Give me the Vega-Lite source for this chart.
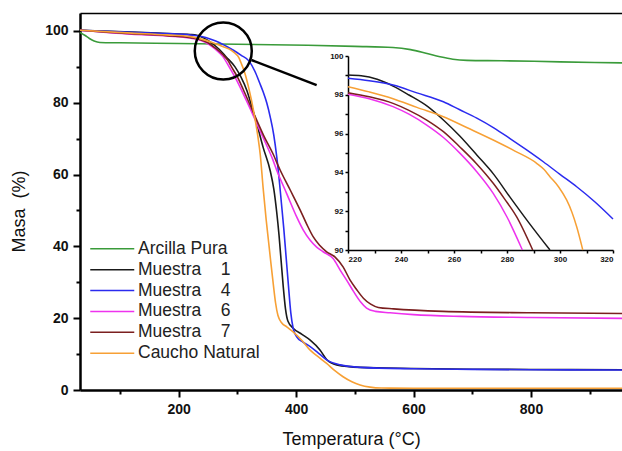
{
"$schema": "https://vega.github.io/schema/vega-lite/v6.json",
"width": 542, "height": 377,
"autosize": {"type": "none"},
"padding": {"left": 80, "top": 13, "right": 0, "bottom": 61},
"config": {"view": {"stroke": null}, "font": "Liberation Sans", "axis": {"grid": false, "domainColor": "black", "tickColor": "black", "labelColor": "#111", "titleColor": "#111"}},
"datasets": {
"main": [
{"s":"Arcilla Pura","t":32,"m":99.6},{"s":"Arcilla Pura","t":40,"m":98.8},{"s":"Arcilla Pura","t":48,"m":97.9},{"s":"Arcilla Pura","t":56,"m":97.2},{"s":"Arcilla Pura","t":66,"m":96.8},{"s":"Arcilla Pura","t":100,"m":96.7},{"s":"Arcilla Pura","t":200,"m":96.5},{"s":"Arcilla Pura","t":300,"m":96.3},{"s":"Arcilla Pura","t":420,"m":96.0},{"s":"Arcilla Pura","t":500,"m":95.7},{"s":"Arcilla Pura","t":565,"m":95.4},{"s":"Arcilla Pura","t":595,"m":94.8},{"s":"Arcilla Pura","t":623,"m":93.7},{"s":"Arcilla Pura","t":645,"m":92.8},{"s":"Arcilla Pura","t":667,"m":92.1},{"s":"Arcilla Pura","t":691,"m":91.8},{"s":"Arcilla Pura","t":750,"m":91.7},{"s":"Arcilla Pura","t":850,"m":91.4},{"s":"Arcilla Pura","t":955,"m":91.1},
{"s":"Muestra 1","t":32,"m":100.2},{"s":"Muestra 1","t":120,"m":99.7},{"s":"Muestra 1","t":180,"m":99.3},{"s":"Muestra 1","t":220,"m":99.02},{"s":"Muestra 1","t":231,"m":98.8},{"s":"Muestra 1","t":243,"m":98.0},{"s":"Muestra 1","t":256,"m":96.7},{"s":"Muestra 1","t":269,"m":94.9},{"s":"Muestra 1","t":281,"m":92.75},{"s":"Muestra 1","t":296,"m":90.0},{"s":"Muestra 1","t":306,"m":87.2},{"s":"Muestra 1","t":316,"m":83.5},{"s":"Muestra 1","t":325,"m":78.7},{"s":"Muestra 1","t":333,"m":74.2},{"s":"Muestra 1","t":344,"m":67.5},{"s":"Muestra 1","t":356,"m":61},{"s":"Muestra 1","t":362,"m":56},{"s":"Muestra 1","t":367,"m":49.5},{"s":"Muestra 1","t":371,"m":43},{"s":"Muestra 1","t":374,"m":37},{"s":"Muestra 1","t":378,"m":29},{"s":"Muestra 1","t":382,"m":22.5},{"s":"Muestra 1","t":386,"m":19.2},{"s":"Muestra 1","t":395,"m":17.2},{"s":"Muestra 1","t":410,"m":15.5},{"s":"Muestra 1","t":424,"m":13.9},{"s":"Muestra 1","t":441,"m":11.1},{"s":"Muestra 1","t":452,"m":8.5},{"s":"Muestra 1","t":469,"m":7.0},{"s":"Muestra 1","t":509,"m":6.3},{"s":"Muestra 1","t":600,"m":6.0},{"s":"Muestra 1","t":700,"m":5.8},{"s":"Muestra 1","t":800,"m":5.7},{"s":"Muestra 1","t":955,"m":5.65},
{"s":"Muestra 4","t":32,"m":100.2},{"s":"Muestra 4","t":120,"m":99.6},{"s":"Muestra 4","t":180,"m":99.25},{"s":"Muestra 4","t":220,"m":98.85},{"s":"Muestra 4","t":237,"m":98.5},{"s":"Muestra 4","t":256,"m":97.64},{"s":"Muestra 4","t":269,"m":96.8},{"s":"Muestra 4","t":281,"m":95.76},{"s":"Muestra 4","t":294,"m":94.55},{"s":"Muestra 4","t":306,"m":93.26},{"s":"Muestra 4","t":320,"m":91.6},{"s":"Muestra 4","t":330,"m":88.7},{"s":"Muestra 4","t":338,"m":85.5},{"s":"Muestra 4","t":344,"m":83},{"s":"Muestra 4","t":350,"m":80},{"s":"Muestra 4","t":356,"m":76},{"s":"Muestra 4","t":362,"m":71},{"s":"Muestra 4","t":367,"m":65},{"s":"Muestra 4","t":371,"m":59},{"s":"Muestra 4","t":375,"m":52},{"s":"Muestra 4","t":379,"m":45},{"s":"Muestra 4","t":383,"m":37},{"s":"Muestra 4","t":387,"m":29},{"s":"Muestra 4","t":391,"m":21.5},{"s":"Muestra 4","t":395,"m":17.2},{"s":"Muestra 4","t":401,"m":14.8},{"s":"Muestra 4","t":412,"m":13.3},{"s":"Muestra 4","t":424,"m":12.1},{"s":"Muestra 4","t":440,"m":10.0},{"s":"Muestra 4","t":452,"m":8.4},{"s":"Muestra 4","t":475,"m":7.0},{"s":"Muestra 4","t":509,"m":6.3},{"s":"Muestra 4","t":600,"m":5.9},{"s":"Muestra 4","t":700,"m":5.75},{"s":"Muestra 4","t":800,"m":5.65},{"s":"Muestra 4","t":955,"m":5.57},
{"s":"Muestra 6","t":32,"m":100.2},{"s":"Muestra 6","t":120,"m":99.1},{"s":"Muestra 6","t":180,"m":98.6},{"s":"Muestra 6","t":220,"m":98.03},{"s":"Muestra 6","t":237,"m":97.39},{"s":"Muestra 6","t":250,"m":96.44},{"s":"Muestra 6","t":262,"m":94.98},{"s":"Muestra 6","t":275,"m":92.92},{"s":"Muestra 6","t":286,"m":90.0},{"s":"Muestra 6","t":298,"m":86.5},{"s":"Muestra 6","t":310,"m":82.5},{"s":"Muestra 6","t":322,"m":78.3},{"s":"Muestra 6","t":335,"m":73.5},{"s":"Muestra 6","t":348,"m":68.8},{"s":"Muestra 6","t":360,"m":64.3},{"s":"Muestra 6","t":367,"m":61.2},{"s":"Muestra 6","t":384,"m":54.7},{"s":"Muestra 6","t":401,"m":48.2},{"s":"Muestra 6","t":412,"m":44.6},{"s":"Muestra 6","t":424,"m":41.7},{"s":"Muestra 6","t":435,"m":39.8},{"s":"Muestra 6","t":446,"m":38.5},{"s":"Muestra 6","t":463,"m":36.6},{"s":"Muestra 6","t":475,"m":33.4},{"s":"Muestra 6","t":486,"m":30.6},{"s":"Muestra 6","t":498,"m":27.4},{"s":"Muestra 6","t":510,"m":24.5},{"s":"Muestra 6","t":520,"m":22.8},{"s":"Muestra 6","t":535,"m":21.9},{"s":"Muestra 6","t":560,"m":21.5},{"s":"Muestra 6","t":600,"m":21.0},{"s":"Muestra 6","t":680,"m":20.5},{"s":"Muestra 6","t":800,"m":20.2},{"s":"Muestra 6","t":955,"m":19.95},
{"s":"Muestra 7","t":32,"m":100.2},{"s":"Muestra 7","t":120,"m":99.2},{"s":"Muestra 7","t":180,"m":98.7},{"s":"Muestra 7","t":220,"m":98.11},{"s":"Muestra 7","t":237,"m":97.56},{"s":"Muestra 7","t":250,"m":96.7},{"s":"Muestra 7","t":262,"m":95.3},{"s":"Muestra 7","t":275,"m":93.44},{"s":"Muestra 7","t":284,"m":91.72},{"s":"Muestra 7","t":290,"m":90.0},{"s":"Muestra 7","t":300,"m":87.2},{"s":"Muestra 7","t":310,"m":83.7},{"s":"Muestra 7","t":320,"m":80},{"s":"Muestra 7","t":332,"m":75.5},{"s":"Muestra 7","t":345,"m":70.8},{"s":"Muestra 7","t":360,"m":66},{"s":"Muestra 7","t":373,"m":61.2},{"s":"Muestra 7","t":390,"m":55.7},{"s":"Muestra 7","t":407,"m":50.1},{"s":"Muestra 7","t":418,"m":46.2},{"s":"Muestra 7","t":429,"m":42.7},{"s":"Muestra 7","t":440,"m":40.3},{"s":"Muestra 7","t":452,"m":38.5},{"s":"Muestra 7","t":466,"m":37.1},{"s":"Muestra 7","t":480,"m":34.3},{"s":"Muestra 7","t":492,"m":30.6},{"s":"Muestra 7","t":503,"m":28.0},{"s":"Muestra 7","t":515,"m":25.5},{"s":"Muestra 7","t":527,"m":23.9},{"s":"Muestra 7","t":540,"m":23.0},{"s":"Muestra 7","t":566,"m":22.6},{"s":"Muestra 7","t":650,"m":21.9},{"s":"Muestra 7","t":800,"m":21.5},{"s":"Muestra 7","t":955,"m":21.3},
{"s":"Caucho Natural","t":32,"m":100.2},{"s":"Caucho Natural","t":120,"m":99.4},{"s":"Caucho Natural","t":180,"m":98.9},{"s":"Caucho Natural","t":220,"m":98.42},{"s":"Caucho Natural","t":237,"m":97.8},{"s":"Caucho Natural","t":256,"m":96.87},{"s":"Caucho Natural","t":275,"m":95.67},{"s":"Caucho Natural","t":291,"m":94.47},{"s":"Caucho Natural","t":296,"m":93.78},{"s":"Caucho Natural","t":302.5,"m":92.58},{"s":"Caucho Natural","t":306,"m":91.2},{"s":"Caucho Natural","t":309,"m":90},{"s":"Caucho Natural","t":313,"m":88.1},{"s":"Caucho Natural","t":318.5,"m":84.7},{"s":"Caucho Natural","t":324,"m":80.7},{"s":"Caucho Natural","t":330,"m":75.5},{"s":"Caucho Natural","t":335,"m":70.5},{"s":"Caucho Natural","t":339,"m":65.5},{"s":"Caucho Natural","t":344,"m":56},{"s":"Caucho Natural","t":349,"m":47.5},{"s":"Caucho Natural","t":353,"m":41.5},{"s":"Caucho Natural","t":357,"m":35.5},{"s":"Caucho Natural","t":361,"m":29.7},{"s":"Caucho Natural","t":365,"m":24.3},{"s":"Caucho Natural","t":369,"m":20.8},{"s":"Caucho Natural","t":376,"m":18.6},{"s":"Caucho Natural","t":384,"m":17.6},{"s":"Caucho Natural","t":395,"m":16.2},{"s":"Caucho Natural","t":410,"m":13.8},{"s":"Caucho Natural","t":424,"m":11.1},{"s":"Caucho Natural","t":438,"m":9.2},{"s":"Caucho Natural","t":452,"m":7.4},{"s":"Caucho Natural","t":466,"m":5.4},{"s":"Caucho Natural","t":480,"m":3.7},{"s":"Caucho Natural","t":495,"m":2.3},{"s":"Caucho Natural","t":509,"m":1.4},{"s":"Caucho Natural","t":526,"m":0.8},{"s":"Caucho Natural","t":545,"m":0.55},{"s":"Caucho Natural","t":600,"m":0.5},{"s":"Caucho Natural","t":955,"m":0.5}
],
"inset": [
{"s":"Muestra 1","t":220,"m":99.02},{"s":"Muestra 1","t":225,"m":98.98},{"s":"Muestra 1","t":231,"m":98.8},{"s":"Muestra 1","t":237,"m":98.45},{"s":"Muestra 1","t":243,"m":97.99},{"s":"Muestra 1","t":250,"m":97.4},{"s":"Muestra 1","t":256,"m":96.7},{"s":"Muestra 1","t":262,"m":95.9},{"s":"Muestra 1","t":268.6,"m":94.9},{"s":"Muestra 1","t":275,"m":93.9},{"s":"Muestra 1","t":281,"m":92.75},{"s":"Muestra 1","t":288,"m":91.45},{"s":"Muestra 1","t":296.2,"m":90},
{"s":"Muestra 4","t":220,"m":98.85},{"s":"Muestra 4","t":228,"m":98.72},{"s":"Muestra 4","t":237,"m":98.5},{"s":"Muestra 4","t":246,"m":98.1},{"s":"Muestra 4","t":256,"m":97.64},{"s":"Muestra 4","t":262,"m":97.24},{"s":"Muestra 4","t":268.6,"m":96.8},{"s":"Muestra 4","t":275,"m":96.3},{"s":"Muestra 4","t":281,"m":95.76},{"s":"Muestra 4","t":287,"m":95.2},{"s":"Muestra 4","t":293.7,"m":94.55},{"s":"Muestra 4","t":300,"m":93.9},{"s":"Muestra 4","t":306.3,"m":93.26},{"s":"Muestra 4","t":313,"m":92.5},{"s":"Muestra 4","t":320,"m":91.6},
{"s":"Muestra 6","t":220,"m":98.03},{"s":"Muestra 6","t":228,"m":97.8},{"s":"Muestra 6","t":237,"m":97.39},{"s":"Muestra 6","t":243,"m":97.0},{"s":"Muestra 6","t":249.7,"m":96.44},{"s":"Muestra 6","t":256,"m":95.8},{"s":"Muestra 6","t":262.3,"m":94.98},{"s":"Muestra 6","t":268.5,"m":94.05},{"s":"Muestra 6","t":274.8,"m":92.92},{"s":"Muestra 6","t":280,"m":91.7},{"s":"Muestra 6","t":285.8,"m":90},
{"s":"Muestra 7","t":220,"m":98.11},{"s":"Muestra 7","t":228,"m":97.9},{"s":"Muestra 7","t":237,"m":97.56},{"s":"Muestra 7","t":243,"m":97.2},{"s":"Muestra 7","t":249.7,"m":96.7},{"s":"Muestra 7","t":256,"m":96.1},{"s":"Muestra 7","t":262.3,"m":95.3},{"s":"Muestra 7","t":268.5,"m":94.45},{"s":"Muestra 7","t":274.8,"m":93.44},{"s":"Muestra 7","t":279,"m":92.65},{"s":"Muestra 7","t":283.6,"m":91.72},{"s":"Muestra 7","t":289.7,"m":90},
{"s":"Caucho Natural","t":220,"m":98.42},{"s":"Caucho Natural","t":228,"m":98.15},{"s":"Caucho Natural","t":237,"m":97.8},{"s":"Caucho Natural","t":246,"m":97.35},{"s":"Caucho Natural","t":256,"m":96.87},{"s":"Caucho Natural","t":265,"m":96.3},{"s":"Caucho Natural","t":274.8,"m":95.67},{"s":"Caucho Natural","t":283,"m":95.1},{"s":"Caucho Natural","t":291.2,"m":94.47},{"s":"Caucho Natural","t":294,"m":94.15},{"s":"Caucho Natural","t":296.2,"m":93.78},{"s":"Caucho Natural","t":299.5,"m":93.25},{"s":"Caucho Natural","t":302.5,"m":92.58},{"s":"Caucho Natural","t":304.5,"m":91.95},{"s":"Caucho Natural","t":306.3,"m":91.2},{"s":"Caucho Natural","t":308.6,"m":90}
],
"circle": [{"t":276,"m":94.4}],
"arrow": [{"t":324,"m":91.9},{"t":435,"m":84.9}]
},
"layer": [
{
"layer": [
{
"data": {"name": "main"},
"mark": {"type": "line", "interpolate": "monotone", "strokeWidth": 1.6},
"encoding": {
"x": {"field": "t", "type": "quantitative", "scale": {"domain": [32, 955], "nice": false, "zero": false},
"axis": {"orient": "bottom", "values": [100,200,300,400,500,600,700,800,900], "labelExpr": "datum.value % 200 === 0 ? datum.label : ''", "tickSize": {"condition": {"test": "datum.value % 200 === 0", "value": 7}, "value": 4}, "tickWidth": 2, "domainWidth": 2.5, "labelFontSize": 14, "labelFontWeight": "bold", "labelPadding": 5, "title": "Temperatura (°C)", "titleFontSize": 18, "titleFontWeight": "normal", "titlePadding": 14}},
"y": {"field": "m", "type": "quantitative", "scale": {"domain": [0, 105], "nice": false, "zero": false},
"axis": {"orient": "left", "values": [0,10,20,30,40,50,60,70,80,90,100], "labelExpr": "datum.value % 20 === 0 ? datum.label : ''", "tickSize": {"condition": {"test": "datum.value % 20 === 0", "value": 7}, "value": 4}, "tickWidth": 2, "domainWidth": 2.5, "labelFontSize": 14, "labelFontWeight": "bold", "labelPadding": 5, "title": "Masa\u00a0\u00a0(%)", "titleFontSize": 18, "titleFontWeight": "normal", "titleX": -52, "titleY": 198}},
"color": {"field": "s", "type": "nominal",
"scale": {"domain": ["Arcilla Pura","Muestra 1","Muestra 4","Muestra 6","Muestra 7","Caucho Natural"], "range": ["#3a9b3a","#1a1a1a","#2b2bef","#ee33ee","#7b1f1f","#f7a035"]},
"legend": {"orient": "none", "legendX": 8, "legendY": 227, "title": null, "padding": 0, "symbolType": "M-4,0H4", "symbolSize": 121, "symbolStrokeWidth": 1.5, "symbolOffset": 15.5, "labelOffset": 17, "labelFontSize": 17.5, "labelColor": "#222", "rowPadding": 1.9, "labelExpr": "replace(datum.label, 'Muestra ', 'Muestra\u00a0\u00a0\u00a0\u00a0')"}}
}
},
{
"data": {"name": "circle"},
"mark": {"type": "point", "shape": "circle", "filled": false, "size": 3249, "stroke": "black", "strokeWidth": 2.5, "opacity": 1},
"encoding": {
"x": {"field": "t", "type": "quantitative", "scale": {"domain": [32, 955], "nice": false, "zero": false},
"axis": {"orient": "top", "ticks": false, "labels": false, "title": null, "domainWidth": 1.5}},
"y": {"field": "m", "type": "quantitative", "scale": {"domain": [0, 105], "nice": false, "zero": false}, "axis": null}
}
},
{
"data": {"name": "arrow"},
"mark": {"type": "line", "color": "black", "strokeWidth": 2.5},
"encoding": {
"x": {"field": "t", "type": "quantitative", "scale": {"domain": [32, 955], "nice": false, "zero": false}, "axis": null},
"y": {"field": "m", "type": "quantitative", "scale": {"domain": [0, 105], "nice": false, "zero": false}, "axis": null}
}
}
],
"resolve": {"axis": {"x": "independent", "y": "independent"}}
},
{
"data": {"name": "inset"},
"mark": {"type": "line", "interpolate": "monotone", "strokeWidth": 1.5},
"encoding": {
"x": {"field": "t", "type": "quantitative", "scale": {"domain": [220, 320], "range": [268, 533], "nice": false, "zero": false},
"axis": {"orient": "bottom", "offset": -140, "values": [220,230,240,250,260,270,280,290,300,310,320], "labelExpr": "datum.value % 20 === 0 ? datum.label : ''", "tickSize": 3, "tickWidth": 1.5, "domainWidth": 1.5, "labelFontSize": 8, "labelFontWeight": "bold", "labelPadding": 2, "title": null}},
"y": {"field": "m", "type": "quantitative", "scale": {"domain": [90, 100], "range": [237, 43], "nice": false, "zero": false},
"axis": {"orient": "left", "offset": -268, "values": [90,91,92,93,94,95,96,97,98,99,100], "labelExpr": "datum.value % 2 === 0 ? datum.label : ''", "tickSize": 3, "tickWidth": 1.5, "domainWidth": 1.5, "labelFontSize": 8, "labelFontWeight": "bold", "labelPadding": 2, "title": null}},
"color": {"field": "s", "type": "nominal",
"scale": {"domain": ["Arcilla Pura","Muestra 1","Muestra 4","Muestra 6","Muestra 7","Caucho Natural"], "range": ["#3a9b3a","#1a1a1a","#2b2bef","#ee33ee","#7b1f1f","#f7a035"]},
"legend": {"orient": "none", "legendX": 8, "legendY": 227, "title": null, "padding": 0, "symbolType": "M-4,0H4", "symbolSize": 121, "symbolStrokeWidth": 1.5, "symbolOffset": 15.5, "labelOffset": 17, "labelFontSize": 17.5, "labelColor": "#222", "rowPadding": 1.9, "labelExpr": "replace(datum.label, 'Muestra ', 'Muestra\u00a0\u00a0\u00a0\u00a0')"}}
}
}
],
"resolve": {"scale": {"x": "independent", "y": "independent"}}
}
